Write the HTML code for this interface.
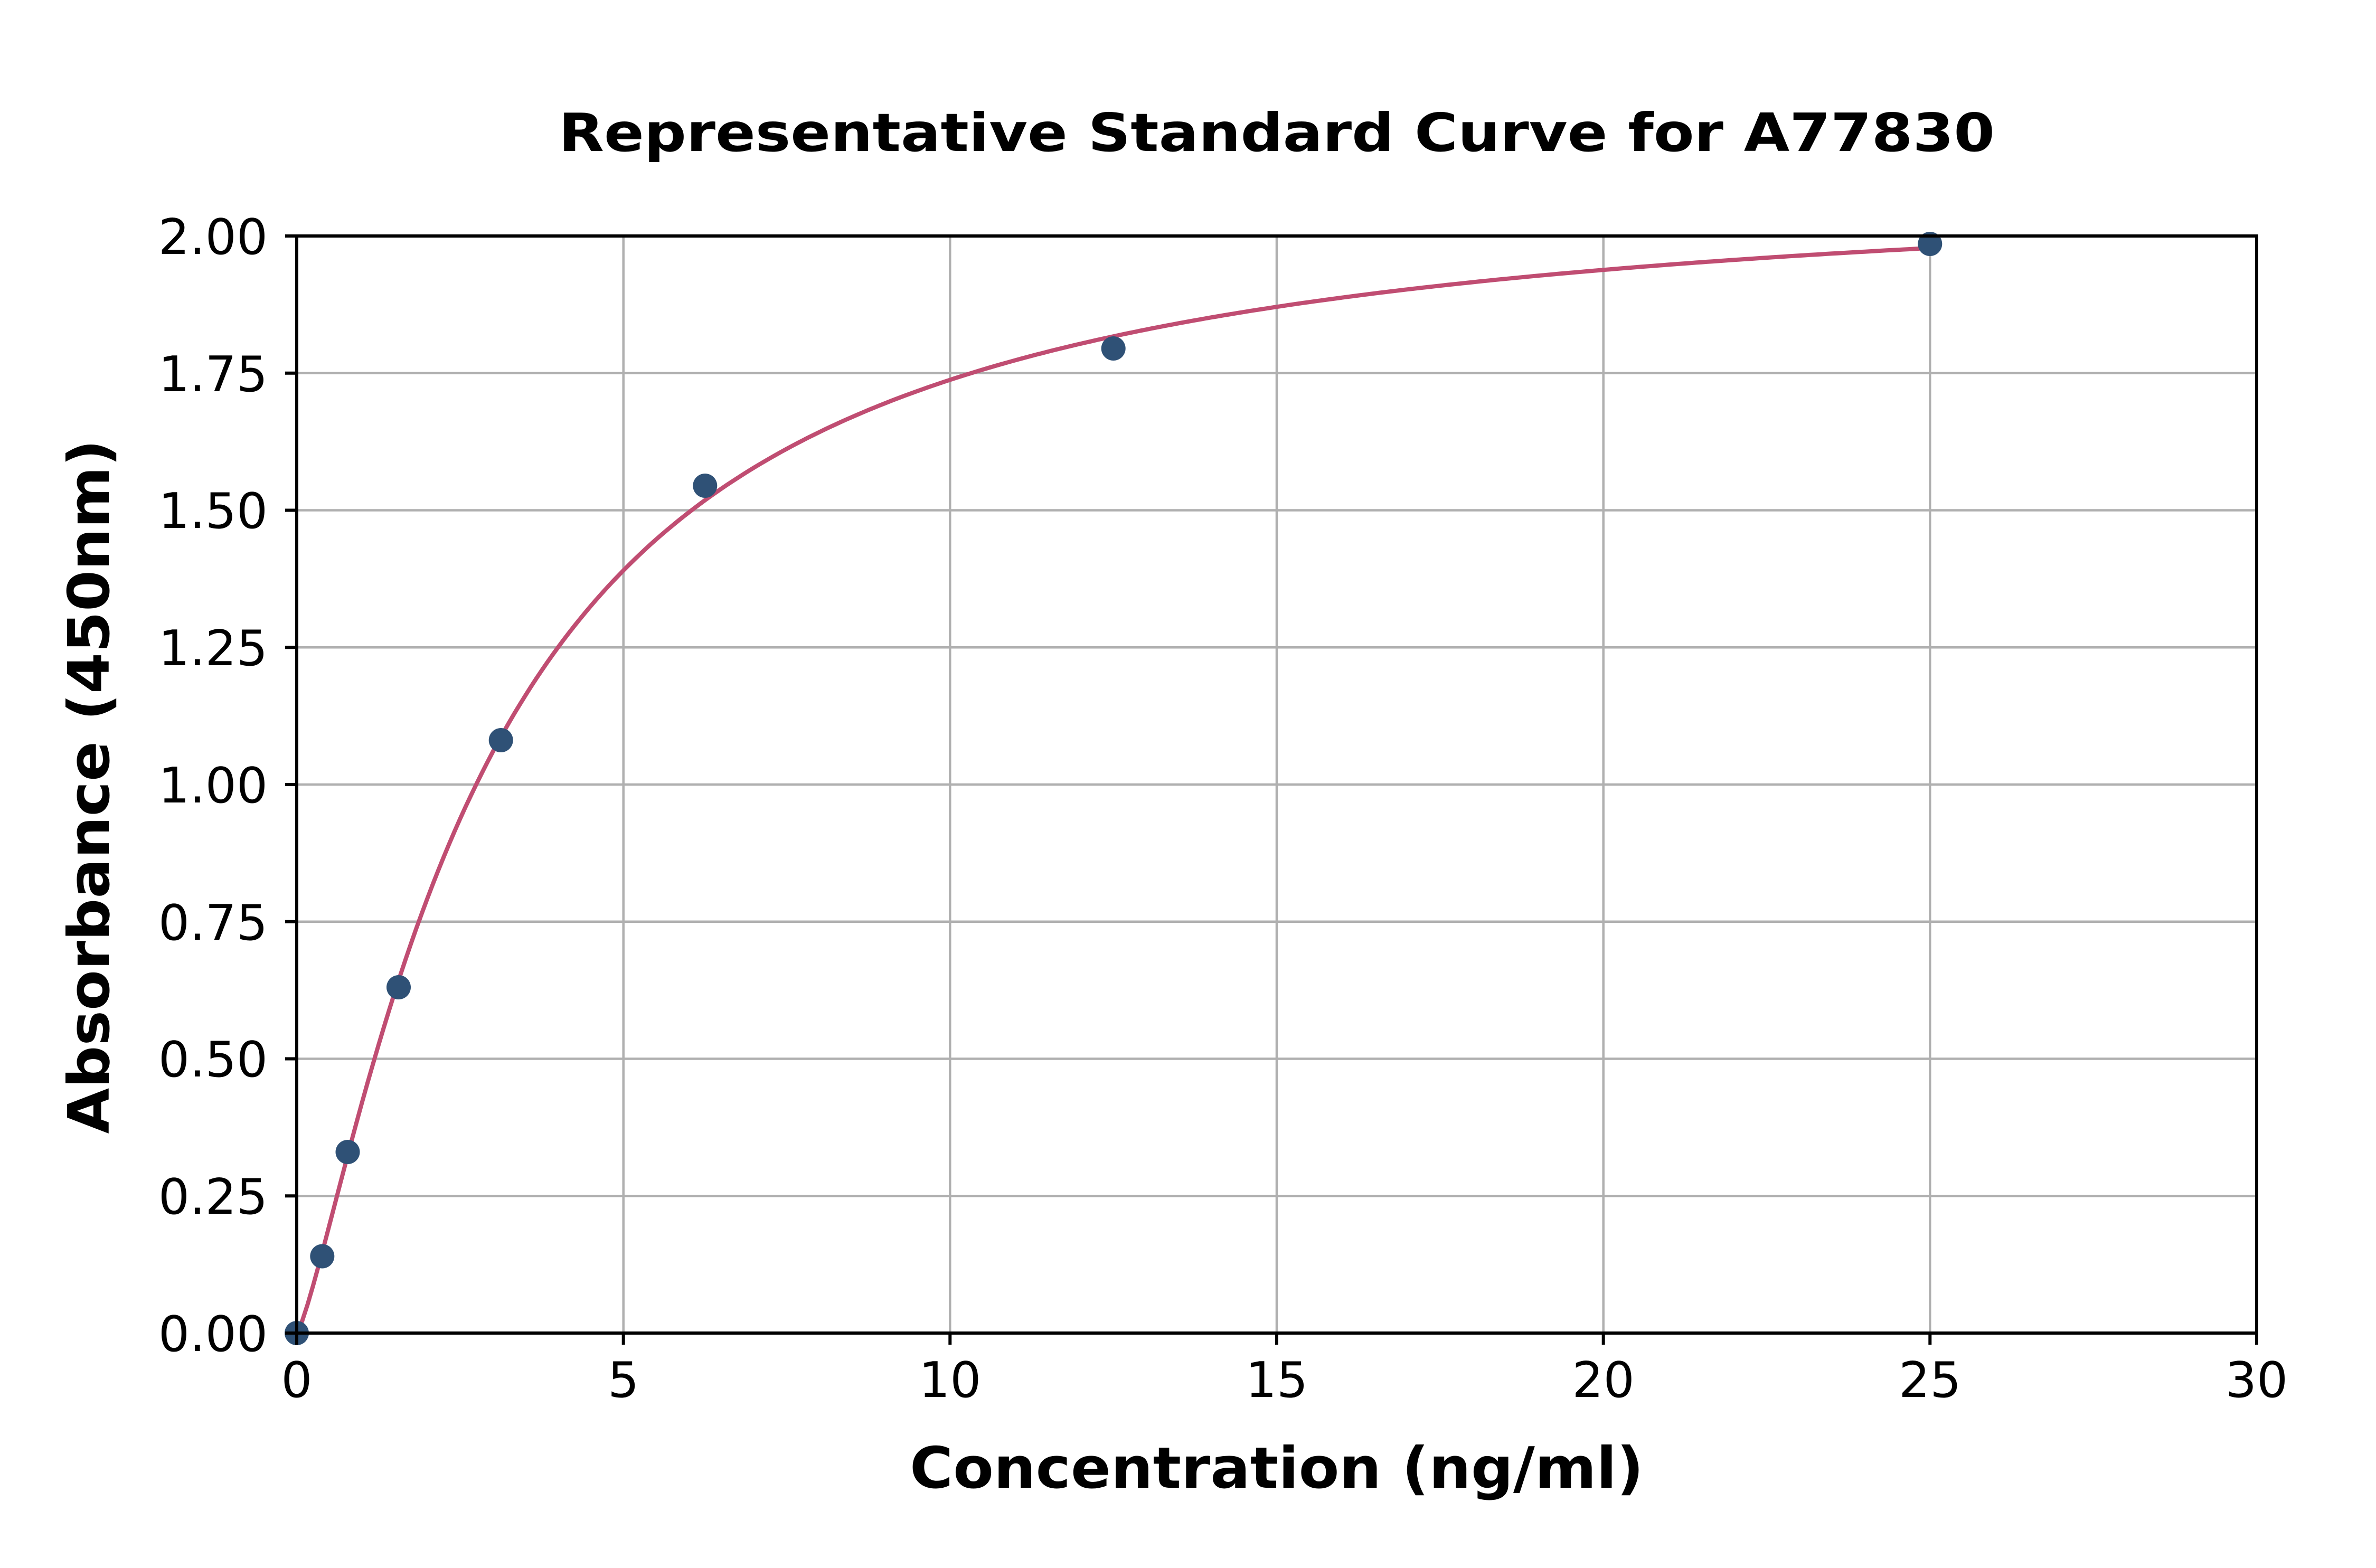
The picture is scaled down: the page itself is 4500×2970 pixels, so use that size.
<!DOCTYPE html>
<html><head><meta charset="utf-8"><style>html,body{margin:0;padding:0;background:#fff}svg{display:block}</style></head>
<body>
<svg width="4500" height="2970" viewBox="0 0 4500 2970" xmlns="http://www.w3.org/2000/svg" font-family="DejaVu Sans, Liberation Sans, sans-serif">
<rect width="4500" height="2970" fill="#fff"/>
<g stroke="#b0b0b0" stroke-width="4.5">
<line x1="562" y1="447" x2="562" y2="2525"/>
<line x1="1180.7" y1="447" x2="1180.7" y2="2525"/>
<line x1="1799.3" y1="447" x2="1799.3" y2="2525"/>
<line x1="2418" y1="447" x2="2418" y2="2525"/>
<line x1="3036.7" y1="447" x2="3036.7" y2="2525"/>
<line x1="3655.3" y1="447" x2="3655.3" y2="2525"/>
<line x1="562" y1="2265.25" x2="4274" y2="2265.25"/>
<line x1="562" y1="2005.5" x2="4274" y2="2005.5"/>
<line x1="562" y1="1745.75" x2="4274" y2="1745.75"/>
<line x1="562" y1="1486" x2="4274" y2="1486"/>
<line x1="562" y1="1226.25" x2="4274" y2="1226.25"/>
<line x1="562" y1="966.5" x2="4274" y2="966.5"/>
<line x1="562" y1="706.75" x2="4274" y2="706.75"/>
</g>
<path id="curve" fill="none" stroke="#c04d72" stroke-width="8" stroke-linejoin="round" d=""/>
<g fill="#2f5176">
<circle cx="562" cy="2525" r="23"/>
<circle cx="610.3" cy="2379.5" r="23"/>
<circle cx="658.5" cy="2182" r="23"/>
<circle cx="755" cy="1870" r="23"/>
<circle cx="948.7" cy="1402" r="23"/>
<circle cx="1335.3" cy="920" r="23"/>
<circle cx="2108.7" cy="660" r="23"/>
<circle cx="3655.3" cy="462" r="23"/>
</g>
<rect x="562" y="447" width="3712" height="2078" fill="none" stroke="#000" stroke-width="6"/>
<g stroke="#000" stroke-width="6">
<line x1="562" y1="2525" x2="562" y2="2547"/><line x1="1180.7" y1="2525" x2="1180.7" y2="2547"/><line x1="1799.3" y1="2525" x2="1799.3" y2="2547"/><line x1="2418" y1="2525" x2="2418" y2="2547"/><line x1="3036.7" y1="2525" x2="3036.7" y2="2547"/><line x1="3655.3" y1="2525" x2="3655.3" y2="2547"/><line x1="4274" y1="2525" x2="4274" y2="2547"/>
<line x1="540" y1="2525" x2="562" y2="2525"/><line x1="540" y1="2265.25" x2="562" y2="2265.25"/><line x1="540" y1="2005.5" x2="562" y2="2005.5"/><line x1="540" y1="1745.75" x2="562" y2="1745.75"/><line x1="540" y1="1486" x2="562" y2="1486"/><line x1="540" y1="1226.25" x2="562" y2="1226.25"/><line x1="540" y1="966.5" x2="562" y2="966.5"/><line x1="540" y1="706.75" x2="562" y2="706.75"/><line x1="540" y1="447" x2="562" y2="447"/>
</g>
<g font-size="93" fill="#000" text-anchor="middle">
<text x="562" y="2646">0</text><text x="1180.7" y="2646">5</text><text x="1799.3" y="2646">10</text><text x="2418" y="2646">15</text><text x="3036.7" y="2646">20</text><text x="3655.3" y="2646">25</text><text x="4274" y="2646">30</text>
</g>
<g font-size="93" fill="#000" text-anchor="end">
<text x="507" y="2559">0.00</text><text x="507" y="2299">0.25</text><text x="507" y="2039">0.50</text><text x="507" y="1780">0.75</text><text x="507" y="1520">1.00</text><text x="507" y="1260">1.25</text><text x="507" y="1000">1.50</text><text x="507" y="741">1.75</text><text x="507" y="481">2.00</text>
</g>
<text x="2418" y="286" font-size="100" font-weight="bold" text-anchor="middle" textLength="2720" lengthAdjust="spacingAndGlyphs">Representative Standard Curve for A77830</text>
<text x="2418" y="2818" font-size="108" font-weight="bold" text-anchor="middle" textLength="1390" lengthAdjust="spacingAndGlyphs">Concentration (ng/ml)</text>
<text transform="translate(206,1490) rotate(-90)" font-size="108" font-weight="bold" text-anchor="middle" textLength="1315" lengthAdjust="spacingAndGlyphs">Absorbance (450nm)</text>
<script>
(function(){var d="";for(var i=0;i<=300;i++){var x=25*i/300;var t=Math.pow(x/2.981,1.273);var y=2.11*t/(1+t);var px=562+x*123.733,py=2525-y*1039;d+=(i?"L":"M")+px.toFixed(1)+" "+py.toFixed(1);}document.getElementById("curve").setAttribute("d",d);})();
</script>
</svg>
</body></html>
